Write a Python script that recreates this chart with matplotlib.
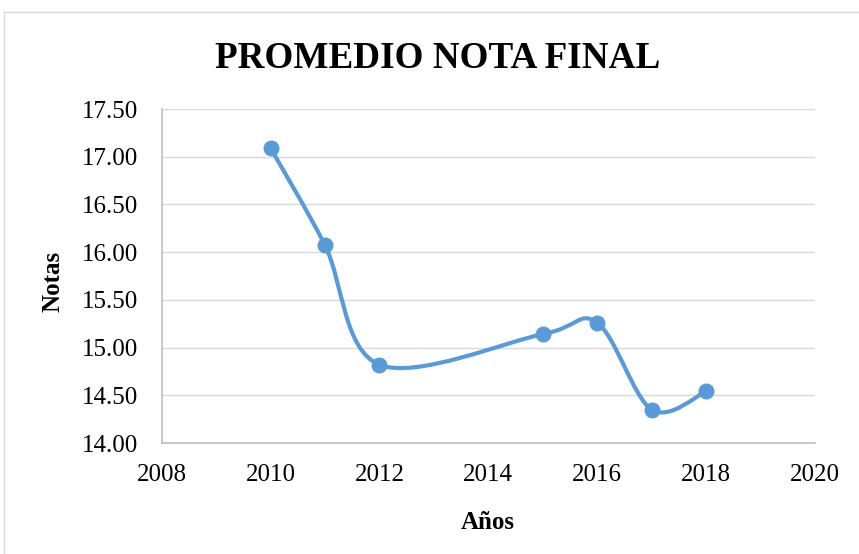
import numpy as np
import matplotlib
matplotlib.use("Agg")
import matplotlib.pyplot as plt
from matplotlib.path import Path
from matplotlib.patches import PathPatch
from matplotlib.lines import Line2D

years = [2010, 2011, 2012, 2015, 2016, 2017, 2018]
notas = [17.09, 16.07, 14.82, 15.14, 15.26, 14.35, 14.54]
x_ticks = [2008, 2010, 2012, 2014, 2016, 2018, 2020]
y_ticks = [14.00, 14.50, 15.00, 15.50, 16.00, 16.50, 17.00, 17.50]
title = "PROMEDIO NOTA FINAL"
xlabel = "Años"
ylabel = "Notas"

color = "#5B9BD5"
plt.rcParams['font.family'] = ['Liberation Serif', 'DejaVu Serif']

W, H = 859, 554
fig = plt.figure(figsize=(W / 100, H / 100), dpi=100)
ax = fig.add_axes([161.7 / W, 1 - 443 / H, (815 - 161.7) / W, (443 - 109) / H])

# Smoothed line (Catmull-Rom -> cubic Bezier, as Excel's smoothing)
P = np.column_stack([years, notas]).astype(float)
ext = np.vstack([P[0], P, P[-1]])
verts = [tuple(P[0])]
codes = [Path.MOVETO]
for i in range(len(P) - 1):
    p0, p1, p2, p3 = ext[i], ext[i + 1], ext[i + 2], ext[i + 3]
    c1 = p1 + (p2 - p0) / 6.0
    c2 = p2 - (p3 - p1) / 6.0
    verts += [tuple(c1), tuple(c2), tuple(p2)]
    codes += [Path.CURVE4] * 3
ax.add_patch(PathPatch(Path(verts, codes), facecolor='none', edgecolor=color,
                       lw=3.0, capstyle='round', joinstyle='round', zorder=3))
ax.plot(years, notas, linestyle='none', marker='o', markersize=10.5,
        color=color, zorder=4)

ax.set_xlim(2008, 2020)
ax.set_ylim(14.0, 17.5)
ax.set_xticks(x_ticks)
ax.set_yticks(y_ticks)
ax.set_xticklabels([str(v) for v in x_ticks])
ax.set_yticklabels([f"{v:.2f}" for v in y_ticks])
ax.tick_params(axis='both', length=0, labelsize=18, colors='black')
ax.tick_params(axis='x', pad=15)
ax.tick_params(axis='y', pad=17)
ax.grid(axis='y', color='#d9d9d9', lw=1.0)
ax.set_axisbelow(True)
for s in ['top', 'right']:
    ax.spines[s].set_visible(False)
for s in ['left', 'bottom']:
    ax.spines[s].set_color('#bfbfbf')
    ax.spines[s].set_linewidth(1.2)

fig.text(438 / W, 1 - 67.7 / H, title, ha='center', va='baseline',
         fontsize=26.7, fontweight='bold')
fig.text(488 / W, 1 - 529 / H, xlabel, ha='center', va='baseline',
         fontsize=18, fontweight='bold')
fig.text(53.5 / W, 1 - 281 / H, ylabel, ha='center', va='center',
         rotation=90, fontsize=18, fontweight='bold')

# chart area border
fig.add_artist(Line2D([4 / W, 1.0], [1 - 12 / H, 1 - 12 / H], transform=fig.transFigure,
                      color='#d9d9d9', lw=1.0))
fig.add_artist(Line2D([4 / W, 4 / W], [0.0, 1 - 12 / H], transform=fig.transFigure,
                      color='#d9d9d9', lw=1.0))

fig.savefig("out.png", dpi=100)
